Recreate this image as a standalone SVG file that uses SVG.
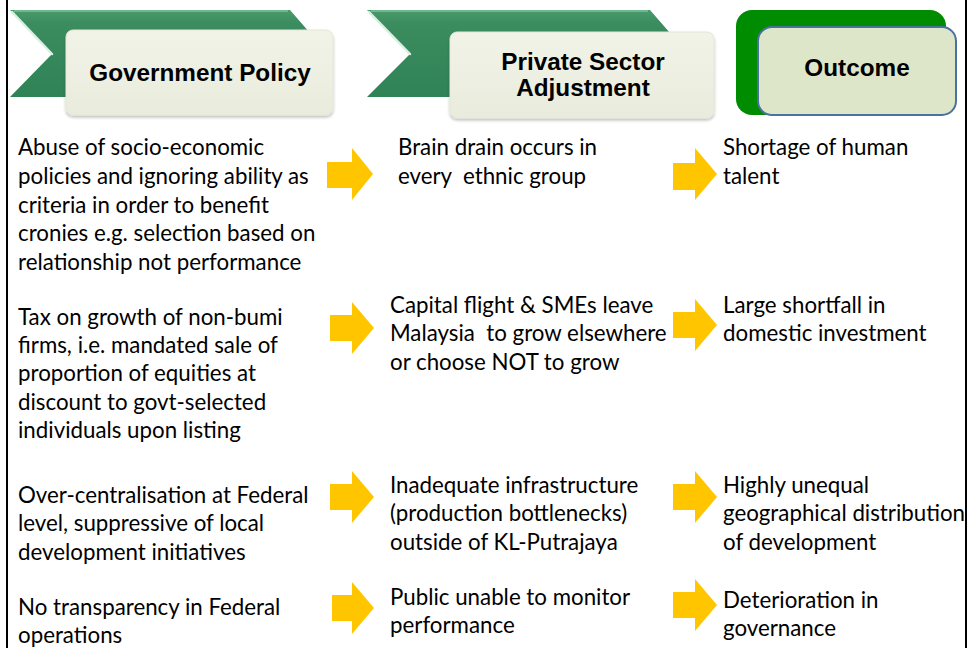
<svg xmlns="http://www.w3.org/2000/svg" width="969" height="648" viewBox="0 0 969 648">
<style>
.body{font-family:Lato,"Open Sans",sans-serif;font-size:22.3px;fill:#000}
.hdr{font-family:"Liberation Sans",Arial,sans-serif;font-size:24.3px;font-weight:bold;fill:#000;text-anchor:middle}
.chev{fill:url(#gChev)}
.card{fill:url(#gCard);stroke:#e4e6d8;stroke-width:1}
.arr{fill:#ffc600}
.hl{fill:none;stroke:#d8f0e0;stroke-width:2.5;stroke-linecap:round}
</style>
<defs>
<linearGradient id="gChev" x1="0" y1="0" x2="0" y2="1">
<stop offset="0" stop-color="#4a9a6c"/>
<stop offset="0.15" stop-color="#3b8c5f"/>
<stop offset="1" stop-color="#2f8356"/>
</linearGradient>
<linearGradient id="gCard" x1="0" y1="0" x2="0" y2="1">
<stop offset="0" stop-color="#f1f3e8"/>
<stop offset="1" stop-color="#e9ecdc"/>
</linearGradient>
<filter id="sh" x="-10%" y="-10%" width="120%" height="130%">
<feGaussianBlur in="SourceAlpha" stdDeviation="1.5"/>
<feOffset dx="0" dy="1.5" result="b"/>
<feComponentTransfer><feFuncA type="linear" slope="0.25"/></feComponentTransfer>
<feMerge><feMergeNode/><feMergeNode in="SourceGraphic"/></feMerge>
</filter>
</defs>
<rect x="0" y="0" width="969" height="648" fill="#fff"/>
<line x1="7" y1="0" x2="7" y2="648" stroke="#000" stroke-width="2"/>
<line x1="966" y1="0" x2="966" y2="648" stroke="#000" stroke-width="2"/>

<g id="hdr-policy">
<polygon class="chev" points="10,10 290,10 330,56 290,97 10,97 52,54"/>
<polyline class="hl" points="12,12 52,54"/>
<line x1="14" y1="11" x2="288" y2="11" stroke="#7cc39a" stroke-width="1.5"/>
<rect class="card" x="66" y="30" width="267" height="85" rx="7" filter="url(#sh)"/>
<text class="hdr" x="200" y="81">Government Policy</text>
</g>

<g id="hdr-private">
<polygon class="chev" points="367,10 650,10 690,56 650,97 367,97 410,54"/>
<polyline class="hl" points="369,12 410,54"/>
<line x1="371" y1="11" x2="648" y2="11" stroke="#7cc39a" stroke-width="1.5"/>
<rect class="card" x="450" y="32" width="264" height="86" rx="7" filter="url(#sh)"/>
<text class="hdr" x="583" y="70">Private Sector</text>
<text class="hdr" x="583" y="96">Adjustment</text>
</g>

<g id="hdr-outcome">
<rect x="736" y="10" width="210" height="105" rx="16" fill="#008c00"/>
<rect x="758" y="27" width="198" height="88" rx="14" fill="#dde6c8" stroke="#4a72a0" stroke-width="2"/>
<text class="hdr" x="857" y="76">Outcome</text>
</g>

<g id="row1-policy"><text class="body" x="18" y="155">Abuse of socio-economic</text><text class="body" x="18" y="184">policies and ignoring ability as</text><text class="body" x="18" y="213">criteria in order to benefit</text><text class="body" x="18" y="241">cronies e.g. selection based on</text><text class="body" x="18" y="270">relationship not performance</text></g>
<g id="row1-private"><text class="body" x="398" y="155">Brain drain occurs in</text><text class="body" x="398" y="184" xml:space="preserve">every  ethnic group</text></g>
<g id="row1-outcome"><text class="body" x="723" y="155">Shortage of human</text><text class="body" x="723" y="184">talent</text></g>

<g id="row2-policy"><text class="body" x="18" y="325">Tax on growth of non-bumi</text><text class="body" x="18" y="353">firms, i.e. mandated sale of</text><text class="body" x="18" y="381">proportion of equities at</text><text class="body" x="18" y="410">discount to govt-selected</text><text class="body" x="18" y="438">individuals upon listing</text></g>
<g id="row2-private"><text class="body" x="390" y="313">Capital flight &amp; SMEs leave</text><text class="body" x="390" y="341" xml:space="preserve">Malaysia  to grow elsewhere</text><text class="body" x="390" y="370">or choose NOT to grow</text></g>
<g id="row2-outcome"><text class="body" x="723" y="313">Large shortfall in</text><text class="body" x="723" y="341">domestic investment</text></g>

<g id="row3-policy"><text class="body" x="18" y="503">Over-centralisation at Federal</text><text class="body" x="18" y="531">level, suppressive of local</text><text class="body" x="18" y="560">development initiatives</text></g>
<g id="row3-private"><text class="body" x="390" y="493">Inadequate infrastructure</text><text class="body" x="390" y="521">(production bottlenecks)</text><text class="body" x="390" y="550">outside of KL-Putrajaya</text></g>
<g id="row3-outcome"><text class="body" x="723" y="493">Highly unequal</text><text class="body" x="723" y="521">geographical distribution</text><text class="body" x="723" y="550">of development</text></g>

<g id="row4-policy"><text class="body" x="18" y="615">No transparency in Federal</text><text class="body" x="18" y="643">operations</text></g>
<g id="row4-private"><text class="body" x="390" y="605">Public unable to monitor</text><text class="body" x="390" y="633">performance</text></g>
<g id="row4-outcome"><text class="body" x="723" y="608">Deterioration in</text><text class="body" x="723" y="636">governance</text></g>

<g id="connectors">
<polygon class="arr" points="327,162 352,162 352,148 373,174 352,200 352,188 327,188"/>
<polygon class="arr" points="673,163 695,163 695,148 717,174 695,200 695,190 673,190"/>
<polygon class="arr" points="330,315 352,315 352,302 374,328 352,354 352,341 330,341"/>
<polygon class="arr" points="673,312 695,312 695,299 717,325 695,351 695,338 673,338"/>
<polygon class="arr" points="330,484 352,484 352,471 374,497 352,523 352,510 330,510"/>
<polygon class="arr" points="673,484 695,484 695,471 717,497 695,523 695,510 673,510"/>
<polygon class="arr" points="332,595 352,595 352,582 374,608 352,634 352,621 332,621"/>
<polygon class="arr" points="673,592 695,592 695,579 717,605 695,631 695,618 673,618"/>
</g>
</svg>
